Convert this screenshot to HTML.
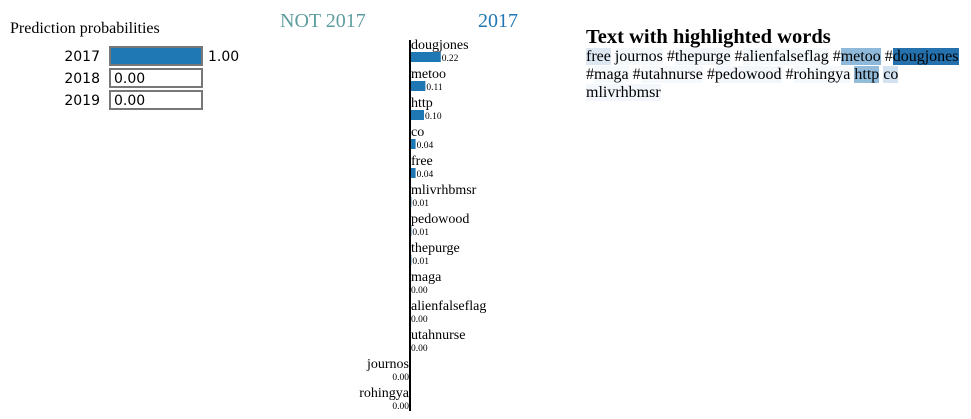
<!DOCTYPE html>
<html><head><meta charset="utf-8"><style>
body{margin:0;width:971px;height:419px;background:#fff;overflow:hidden;position:relative;font-family:"Liberation Serif",serif}
#txt{position:absolute;left:586px;top:26px;width:385px}
#txt h3{margin:0;font-size:20.5px;font-weight:bold;line-height:22px}
#txt p{margin:0;font-size:16px;line-height:18px;white-space:nowrap}
</style></head><body>
<svg width="971" height="419" style="position:absolute;left:0;top:0">
<text x="10" y="33" font-size="16" font-family="Liberation Serif,serif">Prediction probabilities</text>
<g id="probs"></g>
<text x="280" y="27" font-size="20" fill="#5f9ea0" font-family="Liberation Serif,serif">NOT 2017</text>
<text x="478" y="27" font-size="20" fill="#1f77b4" font-family="Liberation Serif,serif">2017</text>
<g id="feat"></g>
<line x1="410" y1="40" x2="410" y2="411" stroke="#000" stroke-width="2"/>
</svg>
<div id="txt">
<h3>Text with highlighted words</h3>
<p><span style="background:#dde8f3">free</span> <span style="background:#f6f9fc">journos</span> #<span style="background:#f3f7fb">thepurge</span> #<span style="background:#f6f9fc">alienfalseflag</span> #<span style="background:#8fb9da">metoo</span> #<span style="background:#2471ad">dougjones</span><br>#<span style="background:#f6f9fc">maga</span> #<span style="background:#f6f9fc">utahnurse</span> #<span style="background:#f3f7fb">pedowood</span> #<span style="background:#f6f9fc">rohingya</span> <span style="background:#93bcdb">http</span> <span style="background:#d3e2f1">co</span><br><span style="background:#f3f7fb">mlivrhbmsr</span></p>
</div>
<script>
const classes=["2017","2018","2019"];
const probs=[1.00,0.00,0.00];
const features=["dougjones","metoo","http","co","free","mlivrhbmsr","pedowood","thepurge","maga","alienfalseflag","utahnurse","journos","rohingya"];
const weights=[0.22,0.11,0.10,0.04,0.04,0.01,0.01,0.01,0.00,0.00,0.00,-0.001,-0.001];
const NS="http://www.w3.org/2000/svg";
function mk(t,a,p){const e=document.createElementNS(NS,t);for(const k in a)e.setAttribute(k,a[k]);p.appendChild(e);return e;}
const pg=document.getElementById('probs');
const px=v=>v*92;
classes.forEach((c,i)=>{
  const y=47+22*i;
  const l=mk('text',{x:100,y:y+14,'font-size':14,'text-anchor':'end','font-family':'DejaVu Sans,sans-serif'},pg);l.textContent=c;
  
  
  const f=mk('rect',{x:110,y:y,width:Math.max(px(probs[i]),0),height:18,fill:'#1f77b4'},pg);
  
  
  const b=mk('rect',{x:110,y:y,width:92,height:18,fill:'none',stroke:'#777','stroke-width':2},pg);
  
  
  const full=probs[i]>0.5;
  const v=mk('text',{x:full?110+px(probs[i])+6:114,y:y+14,'font-size':14,'font-family':'DejaVu Sans,sans-serif'},pg);v.textContent=probs[i].toFixed(2);
  
  
});
const fg=document.getElementById('feat');
const sx=w=>w*140;
features.forEach((f,i)=>{
  const w=weights[i],y=52+29*i,pos=w>=0,wd=Math.abs(sx(w));
  const l=mk('text',{x:pos?411:409,y:y-3,'font-size':14,'text-anchor':pos?'start':'end'},fg);l.textContent=f;
  
  
  const r=mk('rect',{x:pos?410:410-wd,y:y,width:wd,height:10,fill:pos?'#1f77b4':'#5f9ea0'},fg);
  
  
  const v=mk('text',{x:pos?411+wd:409,y:y+9,'font-size':9.5,'text-anchor':pos?'start':'end'},fg);v.textContent=Math.abs(w).toFixed(2);
  
  
});
</script>
</body></html>
